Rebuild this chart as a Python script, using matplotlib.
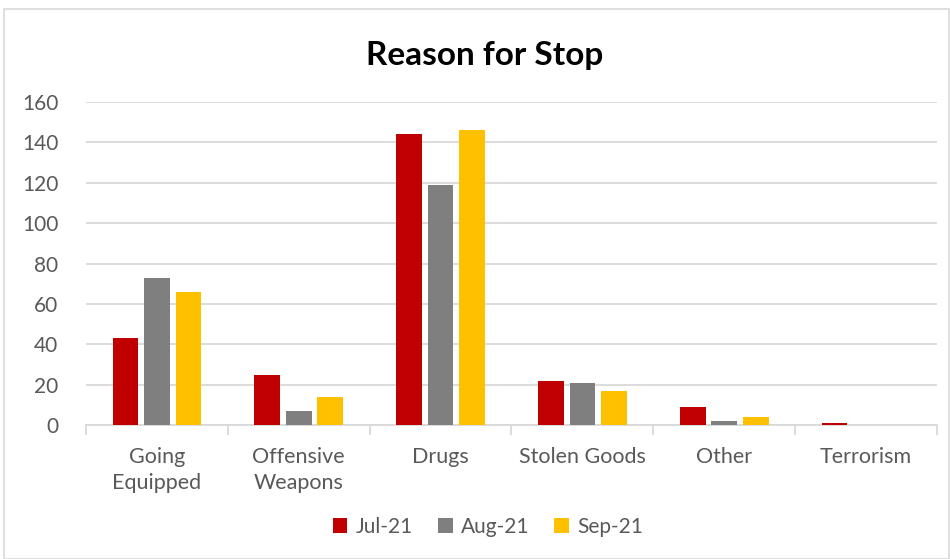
import matplotlib
matplotlib.use('Agg')
import matplotlib.pyplot as plt
import matplotlib.patches as mpatches
import numpy as np

plt.rcParams['font.family'] = ['Lato', 'DejaVu Sans']

categories = ['Going\nEquipped', 'Offensive\nWeapons', 'Drugs', 'Stolen Goods', 'Other', 'Terrorism']
months = ['Jul-21', 'Aug-21', 'Sep-21']
jul = [43, 25, 144, 22, 9, 1]
aug = [73, 7, 119, 21, 2, 0]
sep = [66, 14, 146, 17, 4, 0]
colors = ['#C00000', '#7F7F7F', '#FFC000']

W, H = 950, 559
fig = plt.figure(figsize=(W / 100, H / 100), dpi=100)
fig.patch.set_facecolor('white')

# outer chart frame
fig.patches.append(mpatches.Rectangle((4 / W, 0), (W - 5) / W, (H - 9) / H,
                                      transform=fig.transFigure, fill=False,
                                      edgecolor='#d9d9d9', linewidth=1.2))

ax = fig.add_axes([86 / W, 1 - 425 / H, (937 - 86) / W, (425 - 102) / H])

x = np.arange(len(categories))
bw = 0.18
step = 0.222
for i, (vals, lab, c) in enumerate(zip([jul, aug, sep], months, colors)):
    ax.bar(x + (i - 1) * step, vals, bw, color=c, label=lab, zorder=3,
           linewidth=0)

ax.set_xlim(-0.5, len(categories) - 0.5)
ax.set_ylim(0, 160)
ax.set_yticks(range(0, 161, 20))
ax.grid(axis='y', color='#d9d9d9', linewidth=1.3, zorder=0)
for s in ['top', 'right', 'left']:
    ax.spines[s].set_visible(False)
ax.spines['bottom'].set_color('#d9d9d9')
ax.spines['bottom'].set_linewidth(1.3)
ax.spines['bottom'].set_zorder(2)

ax.set_xticks(x)
ax.set_xticklabels(categories, fontsize=15.5, color='#595959', linespacing=1.35)
ax.tick_params(axis='x', length=0, pad=16)
ax.set_xticks(np.arange(-0.5, len(categories)), minor=True)
ax.tick_params(axis='x', which='minor', length=7, width=1.3, color='#d9d9d9')
ax.tick_params(axis='y', length=0, labelsize=15, labelcolor='#595959', pad=20)

fig.text(485 / W, 1 - 56 / H, 'Reason for Stop', ha='center', va='center',
         fontsize=24, fontweight='bold', color='black')

fig.legend(loc='center', bbox_to_anchor=(488 / W, 1 - 527 / H), ncol=3,
           frameon=False, fontsize=15, handlelength=0.7, handleheight=0.7,
           handletextpad=0.4, columnspacing=1.2, labelcolor='#595959')

plt.savefig('out.png', dpi=100, facecolor='white')
